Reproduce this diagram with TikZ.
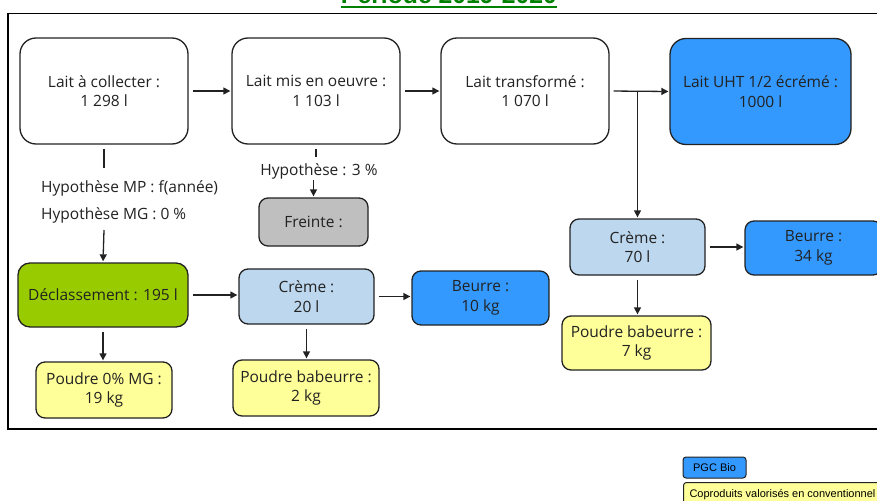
\documentclass[tikz,border=0pt]{standalone}
\usepackage{fontspec}
\usetikzlibrary{arrows.meta}
\newfontfamily\mfont{Open Sans}
\newfontfamily\afont{Liberation Sans}
\definecolor{pgcblue}{HTML}{3399FF}
\definecolor{greend}{HTML}{99CC00}
\definecolor{grayf}{HTML}{BFBFBF}
\definecolor{lightb}{HTML}{BDD7EE}
\definecolor{yel}{HTML}{FFFF99}
\definecolor{titlegreen}{HTML}{008000}
\definecolor{ink}{HTML}{222222}
\tikzset{
  box/.style={draw=ink, line width=1.3pt, rounded corners=16pt, align=center, text=ink,
    font=\mfont\fontsize{15.5}{19.5}\selectfont, inner sep=0pt},
  big/.style={box, minimum width=168pt, minimum height=106pt},
  small/.style={box, rounded corners=9pt},
  txt/.style={text=ink, font=\mfont\fontsize{15.5}{19.5}\selectfont, inner sep=0pt},
  arr/.style={-{Triangle[length=7pt,width=7pt]}, draw=ink, line width=1.3pt, shorten <=4pt, shorten >=1pt},
  seg/.style={draw=ink, line width=1.3pt},
  leg/.style={draw=ink, line width=1pt, rounded corners=3pt, font=\afont\fontsize{11}{13}\selectfont, inner ysep=0pt},
}
\begin{document}
\begin{tikzpicture}[x=1pt,y=-1pt]
\useasboundingbox (0,0) rectangle (877,500);
\fill[white] (0,0) rectangle (877,500);
% title (cut off at top)
\node[anchor=base, inner sep=0pt, text=titlegreen, font=\afont\bfseries\fontsize{24.75}{28}\selectfont] (title) at (449,4) {Période 2019-2020};
\draw[titlegreen, line width=2.2pt] ([yshift=-2.8pt]title.base west) -- ([yshift=-2.8pt]title.base east);
% frame
\draw[line width=1.6pt, draw=black] (8,13.5) rectangle (900,429);
% main boxes
\node[big] (lc) at (104,91) {Lait à collecter :\\1 298 l};
\node[big] (lm) at (316,91) {Lait mis en oeuvre :\\1 103 l};
\node[big] (lt) at (525,91) {Lait transformé :\\1 070 l};
\node[big, fill=pgcblue, minimum width=181pt] (uht) at (760.5,91.5) {Lait UHT 1/2 écrémé :\\1000 l};
\node[small, fill=grayf, minimum width=109, minimum height=48] (fr) at (313.5,222) {Freinte :};
\node[small, fill=greend, rounded corners=12pt, minimum width=170, minimum height=64] (dec) at (103,295) {Déclassement : 195 l};
\node[small, fill=lightb, minimum width=135, minimum height=55] (cr1) at (306.5,296.5) {Crème :\\20 l};
\node[small, fill=pgcblue, minimum width=137, minimum height=54] (be1) at (480.5,298) {Beurre :\\10 kg};
\node[small, fill=yel, minimum width=136, minimum height=56] (po1) at (104,390) {Poudre 0\% MG :\\19 kg};
\node[small, fill=yel, minimum width=146, minimum height=56] (po2) at (306,388) {Poudre babeurre :\\2 kg};
\node[small, fill=lightb, minimum width=135, minimum height=56] (cr2) at (637.5,247) {Crème :\\70 l};
\node[small, fill=pgcblue, minimum width=137, minimum height=54] (be2) at (813.5,248) {Beurre :\\34 kg};
\node[small, fill=yel, minimum width=149, minimum height=54] (po3) at (636.5,343) {Poudre babeurre :\\7 kg};
% hypotheses texts
\node[txt, anchor=base west] (hmp) at (41,192) {Hypothèse MP : f(année)};
\node[txt, anchor=base west] (hmg) at (41,219) {Hypothèse MG : 0 \%};
\node[txt, anchor=base] (h3) at (319,175.5) {Hypothèse : 3 \%};
\coordinate (h1) at (104,168);
\coordinate (h2) at (104,230);
\coordinate (f1) at (316,157);
\coordinate (f2) at (313.5,180);
% connectors
\draw[arr] (lc.east) -- (lm.west);
\draw[arr] (lm.east) -- (lt.west);
\draw[arr] (lt.east) -- (uht.west);
\coordinate (br) at (lt.east -| cr2.north);
\draw[arr, shorten <=0pt] (br) -- (cr2.north);
\draw[seg, shorten <=4pt] (lc.south) -- (h1);
\draw[arr, shorten <=0pt] (h2) -- (dec.north);
\draw[seg, shorten <=4pt] (lm.south) -- (f1);
\draw[arr, shorten <=0pt] (f2) -- (fr.north);
\draw[arr] (dec.east) -- (dec.east -| cr1.west);
\draw[arr] (cr1.east) -- (cr1.east -| be1.west);
\draw[arr] (dec.south) -- (dec.south |- po1.north);
\draw[arr] (cr1.south) -- (cr1.south |- po2.north);
\draw[arr] (cr2.east) -- (cr2.east -| be2.west);
\draw[arr] (cr2.south) -- (cr2.south |- po3.north);
% legend
\node[leg, fill=pgcblue, minimum width=63, minimum height=21] (lg1) at (714.5,467.5) {PGC Bio};
\node[leg, fill=yel, anchor=north west, inner xsep=6pt, minimum height=24] (lg2) at (683,482) {Coproduits valorisés en conventionnel};
\end{tikzpicture}
\end{document}
